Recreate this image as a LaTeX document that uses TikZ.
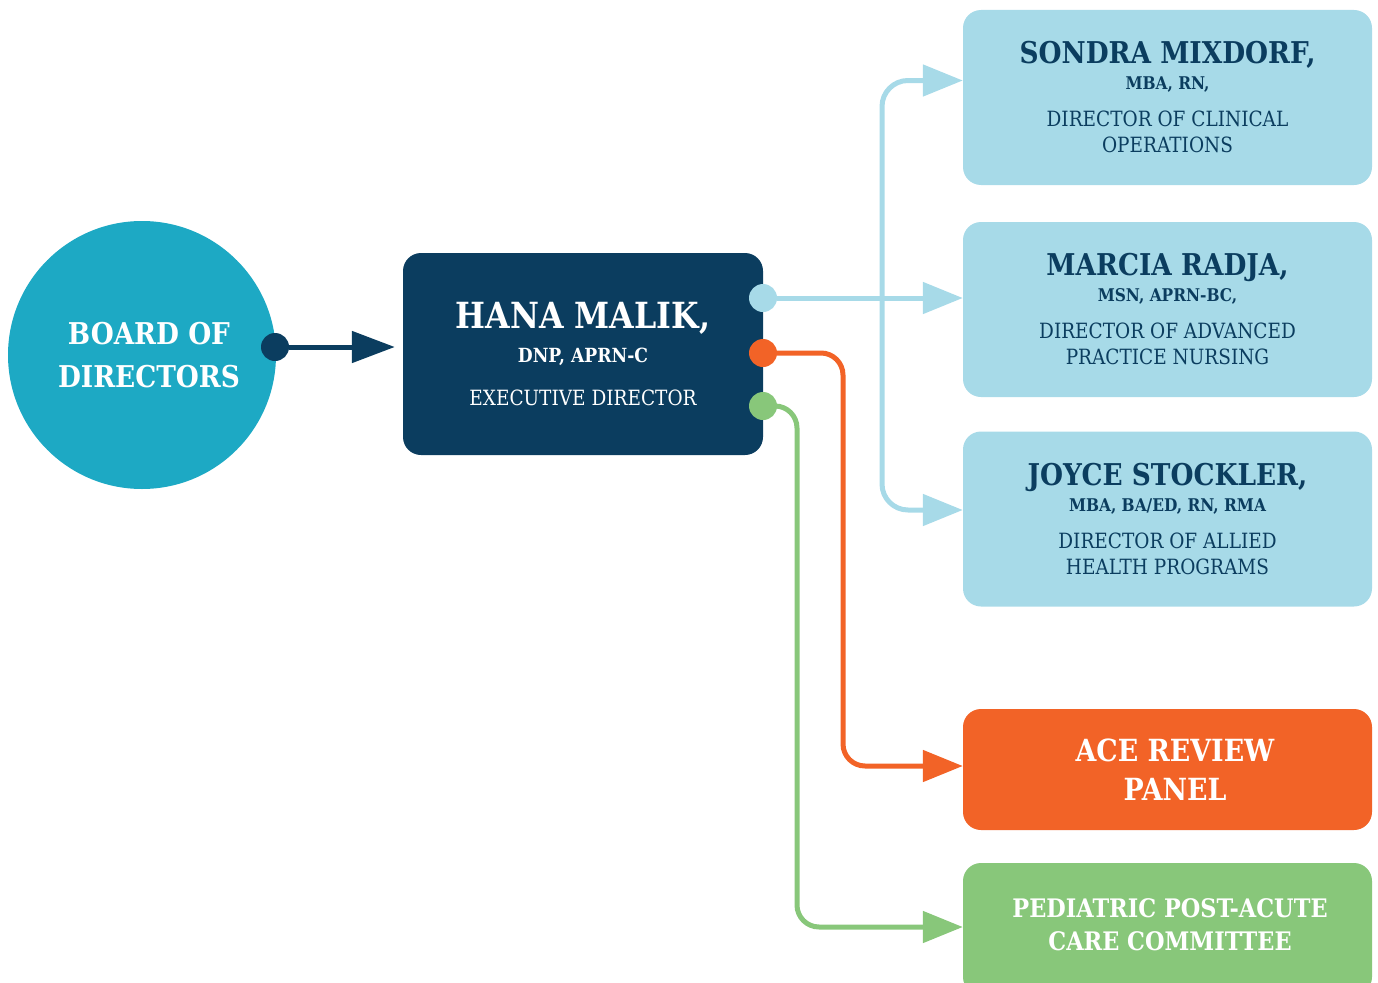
\documentclass[tikz,border=0pt]{standalone}
\usepackage{fontspec}
\setmainfont[FakeStretch=0.88]{DejaVu Serif}
\usetikzlibrary{arrows.meta}

\definecolor{navy}{HTML}{0B3D5F}
\definecolor{boardblue}{HTML}{1DA9C4}
\definecolor{skyblue}{HTML}{A7DAE8}
\definecolor{aceorange}{HTML}{F26327}
\definecolor{ppgreen}{HTML}{88C77A}

\newcommand\namefont{\fontsize{30}{30}\selectfont\bfseries}
\newcommand\credfont{\fontsize{17.5}{17.5}\selectfont\bfseries}

\begin{document}
\begin{tikzpicture}[
x=1pt, y=-1pt,
box/.style={
rounded corners=18pt,
inner sep=0pt,
align=center
},
dirbox/.style={
box,
fill=skyblue,
text=navy,
minimum width=409pt,
minimum height=175pt,
font=\fontsize{21}{26}\selectfont
},
dot/.style={
circle,
inner sep=0pt,
minimum size=28pt
},
link/.style={
line width=5pt,
rounded corners=22pt,
-{Triangle[length=40pt,width=31pt]}
}
]

\useasboundingbox (0,0) rectangle (1378,982);

\node[circle, fill=boardblue, minimum size=268pt] (board) at (142,355) {};
\node[text=white, align=center, font=\bfseries\fontsize{30}{43}\selectfont]
(boardtext) at (149,355) {BOARD OF\\DIRECTORS};

\node[box, fill=navy, text=white, minimum width=360pt, minimum height=202pt,
font=\fontsize{21}{34}\selectfont] (hana) at (583,354)
{{\fontsize{36}{36}\selectfont\bfseries HANA MALIK,}\\
{\fontsize{19.5}{19.5}\selectfont\bfseries DNP, APRN-C}\\[9pt]
EXECUTIVE DIRECTOR};

\node[dirbox] (sondra) at (1167.5,97.5)
{{\namefont SONDRA MIXDORF,}\\
{\credfont MBA, RN,}\\[11pt]
DIRECTOR OF CLINICAL\\
OPERATIONS};

\node[dirbox] (marcia) at (1167.5,309.5)
{{\namefont MARCIA RADJA,}\\
{\credfont MSN, APRN-BC,}\\[11pt]
DIRECTOR OF ADVANCED\\
PRACTICE NURSING};

\node[dirbox] (joyce) at (1167.5,519)
{{\namefont JOYCE STOCKLER,}\\
{\credfont MBA, BA/ED, RN, RMA}\\[11pt]
DIRECTOR OF ALLIED\\
HEALTH PROGRAMS};

\node[box, fill=aceorange, minimum width=409pt, minimum height=121pt] (ace) at (1167.5,769.5) {};
\node[text=white, align=center, font=\bfseries\fontsize{30.5}{39}\selectfont]
(acetext) at (1175,769.5) {ACE REVIEW\\PANEL};

\node[box, fill=ppgreen, minimum width=409pt, minimum height=132pt] (ped) at (1167.5,929) {};
\node[text=white, align=center, font=\bfseries\fontsize{25.5}{33}\selectfont]
(pedtext) at (1170,925) {PEDIATRIC POST-ACUTE\\CARE COMMITTEE};

% dots on the boxes
\node[dot, fill=navy] (bdot) at (275,347) {};
\node[dot, fill=skyblue] (sdot) at (763,298) {};
\node[dot, fill=aceorange] (odot) at (763,353) {};
\node[dot, fill=ppgreen] (gdot) at (763,406) {};

% bends of the lines
\coordinate (bluebus) at (882,300);
\coordinate (acebus) at (843,560);
\coordinate (pedbus) at (797,700);

\draw[line width=5pt, navy, -{Triangle[length=43pt,width=31pt]}, shorten >=8pt]
(bdot) -- (bdot -| hana.west);

\draw[link, skyblue] (sdot) -- (sdot -| marcia.west);
\draw[link, skyblue, rounded corners=26pt, {Triangle[length=40pt,width=31pt]}-{Triangle[length=40pt,width=31pt]}]
([yshift=17pt]sondra.west) -| (bluebus) |- ([yshift=9pt]joyce.west);
\draw[link, aceorange] (odot) -| (acebus) |- ([yshift=3.5pt]ace.west);
\draw[link, ppgreen] (gdot) -| (pedbus) |- ([yshift=2pt]ped.west);

\end{tikzpicture}
\end{document}
